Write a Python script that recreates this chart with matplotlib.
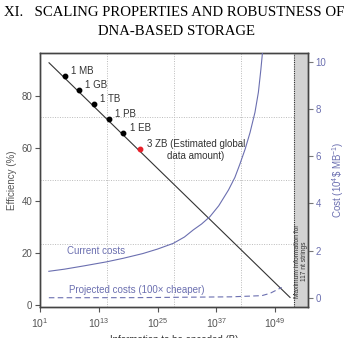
import numpy as np
import matplotlib
matplotlib.use("Agg")
import matplotlib.pyplot as plt

plt.rcParams['font.family'] = ['Liberation Sans', 'DejaVu Sans']
plt.rcParams['mathtext.fontset'] = 'custom'
plt.rcParams['mathtext.rm'] = 'Liberation Sans'
plt.rcParams['mathtext.it'] = 'Liberation Sans:italic'

# ---- data (log10 of information in bytes) ----
eff_line_logx = [2.84, 52.06]
eff_line_y = [92.8, 2.9]

point_labels = ["1 MB", "1 GB", "1 TB", "1 PB", "1 EB"]
point_logx = [6.0, 9.0, 12.0, 15.0, 18.0]
point_eff = [87.7, 82.3, 76.9, 71.4, 65.9]
global_logx = 21.5
global_eff = 59.7

current_logx = [2.8, 6.0, 10.0, 14.6, 18.0, 22.0, 25.0, 28.2, 30.5, 32.3, 34.0, 35.7,
                37.5, 39.5, 40.8, 41.8, 42.9, 43.9, 44.9, 45.6, 46.1, 46.4, 46.6]
current_cost = [1.13, 1.22, 1.36, 1.53, 1.68, 1.88, 2.07, 2.31, 2.58, 2.88, 3.13, 3.44,
                3.90, 4.57, 5.10, 5.65, 6.30, 7.00, 7.85, 8.70, 9.65, 10.30, 10.8]

projected_logx = [2.8, 20.0, 40.0, 46.3, 48.0, 50.0, 50.4]
projected_cost = [0.012, 0.015, 0.05, 0.10, 0.20, 0.41, 0.44]

xtick_exp = [1, 13, 25, 37, 49]
left_ticks = [0, 20, 40, 60, 80]
right_ticks = [0, 2, 4, 6, 8, 10]
max_info_logx = 52.9

# ---- styling ----
BLUE = '#6b6fb0'
GRAY = '#555555'
SPINE = '#444444'
FS = 7

fig = plt.figure(figsize=(3.45, 3.38), dpi=100)
ax = fig.add_axes([0.116, 0.0917, 0.777, 0.7515])
ax.set_xscale('log')
xmax = 10 ** 55.75
ax.set_xlim(1e1, xmax)
ax.set_ylim(-0.77, 96.55)

ax2 = ax.twinx()
ax2.set_ylim(-0.38, 10.36)

# grid at quarters of the axes
for f in (0.25, 0.5, 0.75):
    ax.plot([f, f], [0, 1], transform=ax.transAxes, ls=(0, (1, 1.5)), color='#bbbbbb', lw=0.7, zorder=0)
    ax.plot([0, 1], [f, f], transform=ax.transAxes, ls=(0, (1, 1.5)), color='#bbbbbb', lw=0.7, zorder=0)

# grey band
ax.axvspan(10 ** max_info_logx, xmax, color='#d3d3d3', zorder=0.5, lw=0)
ax.axvline(10 ** max_info_logx, color='#333333', ls=(0, (1, 1)), lw=0.8, zorder=1)
ax.text(10 ** ((max_info_logx + 55.75) / 2), 0.035, "Maximum information for\n117 nt strings",
        rotation=90, ha='center', va='bottom', fontsize=4.8, color='#333333',
        transform=ax.get_xaxis_transform(), linespacing=1.0)

# efficiency line
ax.plot(10.0 ** np.array(eff_line_logx), eff_line_y, color='#333333', lw=0.8, zorder=3)
ax.plot(10.0 ** np.array(point_logx), point_eff, 'o', color='black', ms=3.2, zorder=4)
ax.plot([10.0 ** global_logx], [global_eff], 'o', color='#e8202a', ms=3.2, zorder=4)
for lab, lx, ly in zip(point_labels, point_logx, point_eff):
    ax.annotate(lab, (10.0 ** lx, ly), xytext=(4.5, 3.6), textcoords='offset points',
                ha='left', va='center', fontsize=FS, color='#333333')
ax.annotate("3 ZB (Estimated global", (10.0 ** global_logx, global_eff), xytext=(4.5, 3.6),
            textcoords='offset points', ha='left', va='center', fontsize=FS, color='#333333')
ax.annotate("data amount)", (10.0 ** global_logx, global_eff), xytext=(19.5, -5.2),
            textcoords='offset points', ha='left', va='center', fontsize=FS, color='#333333')

# cost curves
ax2.plot(10.0 ** np.array(current_logx), current_cost, color=BLUE, lw=0.8, zorder=3)
ax2.plot(10.0 ** np.array(projected_logx), projected_cost, color=BLUE, lw=0.8, ls=(0, (5, 3)), zorder=3)
ax2.text(10 ** 6.45, 2.0, "Current costs", fontsize=FS, color=BLUE, ha='left', va='center')
ax2.text(10 ** 7.0, 0.34, "Projected costs (100\u00d7 cheaper)", fontsize=FS, color=BLUE, ha='left', va='center')

# ticks
ax.set_xticks([10.0 ** e for e in xtick_exp])
ax.set_xticklabels([r'$10^{%d}$' % e for e in xtick_exp])
ax.xaxis.set_minor_locator(matplotlib.ticker.NullLocator())
ax.set_yticks(left_ticks)
ax2.set_yticks(right_ticks)
ax.tick_params(axis='both', labelsize=FS, colors=GRAY, length=3.5, width=0.8, direction='out', pad=2)
ax.tick_params(axis='x', labelsize=FS + 0.5, pad=3)
ax2.tick_params(axis='y', labelsize=FS, colors='#777777', labelcolor=BLUE, length=3.5, width=0.8, pad=2)

for a in (ax, ax2):
    for s in a.spines.values():
        s.set_color(SPINE)
        s.set_linewidth(1.0)

ax.set_ylabel("Efficiency (%)", fontsize=FS, color=GRAY, labelpad=3)
ax2.set_ylabel(r"Cost (10$^{4}$\$ MB$^{-1}$)", fontsize=FS, color=BLUE, labelpad=3)
ax.set_xlabel("Information to be encoded (B)", fontsize=FS, color='#333333', labelpad=4)

# title
fig.text(0.505, 0.962, "XI.   SCALING PROPERTIES AND ROBUSTNESS OF", ha='center', va='center',
         family='Liberation Serif', fontsize=10.6, color='black')
fig.text(0.513, 0.908, "DNA-BASED STORAGE", ha='center', va='center',
         family='Liberation Serif', fontsize=10.6, color='black')

fig.savefig("out.png", dpi=100)
